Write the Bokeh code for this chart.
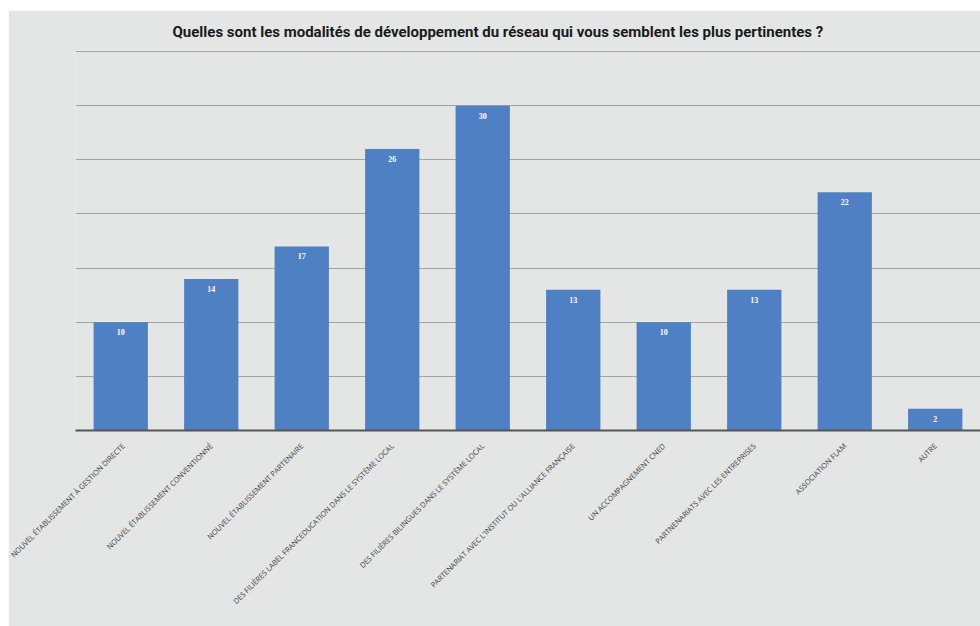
import math
from bokeh.plotting import figure
from bokeh.models import ColumnDataSource, LabelSet, Range1d, FixedTicker, Title
from bokeh.embed import file_html
from bokeh.resources import INLINE

categories = [
    "NOUVEL ÉTABLISSEMENT À GESTION DIRECTE",
    "NOUVEL ÉTABLISSEMENT CONVENTIONNÉ",
    "NOUVEL ÉTABLISSEMENT PARTENAIRE",
    "DES FILIÈRES LABEL FRANCEDUCATION DANS LE SYSTÈME LOCAL",
    "DES FILIÈRES BILINGUES DANS LE SYSTÈME LOCAL",
    "PARTENARIAT AVEC L'INSTITUT OU L'ALLIANCE FRANÇAISE",
    "UN ACCOMPAGNEMENT CNED",
    "PARTNENARIATS AVEC LES ENTREPRISES",
    "ASSOCIATION FLAM",
    "AUTRE",
]
values = [10, 14, 17, 26, 30, 13, 10, 13, 22, 2]
gridlines = [0, 5, 10, 15, 20, 25, 30, 35]
title_text = "Quelles sont les modalités de développement du  réseau qui vous semblent les plus pertinentes ?"

xs = list(range(len(categories)))
src = ColumnDataSource(dict(x=xs, v=values, lab=[str(v) for v in values]))

BG = "#e4e5e5"
p = figure(width=972, height=616, output_backend="svg", toolbar_location=None,
           x_range=Range1d(-0.5, 9.5), y_range=Range1d(0, 35.1),
           min_border_left=67, min_border_right=0, min_border_top=40, min_border_bottom=196,
           background_fill_color=BG, border_fill_color=BG, outline_line_color=None)
p.margin = (10, 0, 0, 8)
p.title = Title(text=title_text, align="left", offset=97, standoff=20,
                text_font="Roboto", text_font_size="15px", text_line_height=1.0,
                text_font_style="bold", text_color="#1a1a1a")

p.vbar(x="x", top="v", width=0.6, source=src, fill_color="#5080c4", line_color=None)

labels = LabelSet(x="x", y="v", text="lab", source=src, text_align="center",
                  text_baseline="top", y_offset=-7, text_color="white",
                  text_font_size="8px", text_font_style="bold",
                  text_font="Roboto")
p.add_layout(labels)

p.yaxis.visible = False
p.ygrid.ticker = FixedTicker(ticks=gridlines)
p.ygrid.grid_line_color = "#a3a3a3"
p.ygrid.grid_line_width = 1
p.xgrid.grid_line_color = None

p.xaxis.ticker = FixedTicker(ticks=xs)
p.xaxis.major_label_overrides = {i: c for i, c in zip(xs, categories)}
p.xaxis.major_label_orientation = math.pi / 4
p.xaxis.major_label_text_font = "Open Sans"
p.xaxis.major_label_text_font_size = "7.4px"
p.xaxis.major_label_text_color = "#404040"
p.xaxis.major_tick_line_color = None
p.xaxis.minor_tick_line_color = None
p.xaxis.axis_line_color = "#555555"
p.xaxis.axis_line_width = 2
p.xaxis.major_label_standoff = 8

open("out.html", "w").write(file_html(p, INLINE))
